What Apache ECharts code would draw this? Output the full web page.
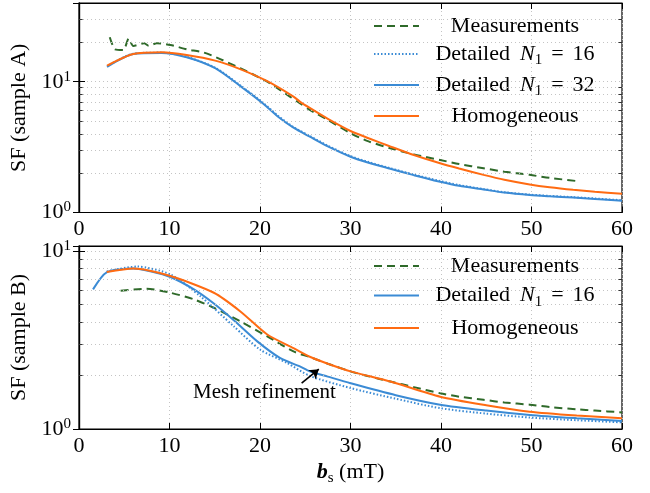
<!DOCTYPE html>
<html><head><meta charset="utf-8">
<script src="https://cdn.jsdelivr.net/npm/echarts@6/dist/echarts.min.js"></script>
<style>html,body{margin:0;padding:0;background:#fff}#c{width:650px;height:493px}</style>
</head><body><div id="c"></div>
<script>
const FONT = '"Liberation Serif","DejaVu Serif",serif';
const GREEN = '#2f6a2a', BLUE = '#3b8bd5', ORANGE = '#ff6b12';

// ---------- x ticks ----------
const xTicks = [0, 10, 20, 30, 40, 50, 60];

// ---------- Sample A ----------
const aMeasX = [3.4, 4.0, 4.9, 5.5, 6.0, 7.2, 7.7, 8.6, 10.1, 11.9, 13.8, 15.6, 17.8, 20.8, 23.3, 24.4, 25.5, 27.5, 30, 32, 34.4, 37, 39.9, 42, 44.7, 47, 49.8, 52, 55];
const aMeasY = [21.9, 17.7, 17.5, 21.5, 18.8, 19.7, 18.8, 19.7, 19.1, 17.7, 16.7, 14.9, 12.7, 10.0, 7.7, 6.85, 6.1, 5.1, 4.04, 3.5, 3.1, 2.78, 2.52, 2.35, 2.18, 2.05, 1.94, 1.84, 1.74];

const aD16X = [3.1, 6.0, 9.1, 11.9, 15.05, 17.8, 20.4, 22, 23.7, 25.5, 27.5, 30, 32, 34.4, 37, 39.9, 42, 44.7, 47, 49.8, 52, 54.6, 57, 60];
const aD16Y = [13.1, 16.4, 16.7, 15.5, 12.8, 9.4, 6.85, 5.48, 4.5, 3.85, 3.24, 2.70, 2.43, 2.18, 1.95, 1.74, 1.62, 1.51, 1.43, 1.37, 1.34, 1.31, 1.28, 1.24];

const aD32X = [3.1, 6.0, 9.1, 11.9, 15.05, 17.8, 20.4, 22, 23.7, 25.5, 27.5, 30, 32, 34.4, 37, 39.9, 42, 44.7, 47, 49.8, 52, 54.6, 57, 60];
const aD32Y = [13.0, 16.3, 16.6, 15.4, 12.7, 9.3, 6.76, 5.4, 4.45, 3.8, 3.2, 2.67, 2.40, 2.16, 1.93, 1.72, 1.60, 1.50, 1.42, 1.36, 1.33, 1.30, 1.27, 1.23];

const aHomX = [3.1, 6.0, 9.2, 11.9, 15.05, 17.8, 20.8, 23.7, 24.4, 25.5, 27.5, 30, 32, 34.4, 37, 39.9, 42, 44.7, 47, 49.8, 52, 54.6, 57, 60];
const aHomY = [13.3, 16.3, 16.8, 16.0, 14.5, 12.5, 10.1, 7.7, 7.05, 6.3, 5.2, 4.2, 3.7, 3.2, 2.75, 2.38, 2.17, 1.94, 1.78, 1.64, 1.56, 1.49, 1.44, 1.39];

// ---------- Sample B ----------
const bMeasX = [4.6, 7.5, 10.1, 12.7, 14.9, 17.8, 20.8, 23.7, 25.5, 27.5, 30, 32, 34.4, 37, 39.9, 42, 44.7, 47, 49.8, 52, 55, 57, 60];
const bMeasY = [6.0, 6.15, 5.84, 5.36, 4.81, 4.04, 3.32, 2.73, 2.54, 2.33, 2.11, 1.98, 1.85, 1.72, 1.59, 1.52, 1.46, 1.41, 1.37, 1.33, 1.29, 1.27, 1.24];

const bD16X = [1.55, 3.06, 6.0, 8.0, 10.1, 12.7, 14.9, 17.1, 19.7, 22.2, 24.4, 25.5, 27.5, 30, 35, 39.9, 45, 49.8, 55, 60];
const bD16Y = [6.1, 7.6, 8.0, 7.7, 7.16, 6.1, 5.08, 4.09, 3.11, 2.51, 2.25, 2.11, 1.97, 1.81, 1.55, 1.37, 1.27, 1.20, 1.15, 1.11];

const bRefX = [3.06, 6.4, 10.1, 13.4, 17.1, 20, 23, 25.5, 30, 35, 39.9, 45, 49.8, 55, 60];
const bRefY = [7.7, 8.2, 7.4, 5.59, 3.78, 2.8, 2.35, 1.99, 1.70, 1.48, 1.31, 1.22, 1.16, 1.12, 1.09];

const bHomX = [3.06, 6.0, 10.1, 14.9, 17.8, 20.8, 23.7, 25.5, 27.5, 30, 34.4, 39.9, 45, 49.8, 55, 60];
const bHomY = [7.64, 8.0, 7.25, 5.84, 4.6, 3.4, 2.85, 2.55, 2.33, 2.11, 1.85, 1.52, 1.36, 1.25, 1.19, 1.15];

// minor log grid values
const aMinor = [2, 3, 4, 5, 6, 7, 8, 9, 20, 30];
const bMinor = [2, 3, 4, 5, 6, 7, 8, 9];

// annotation
const noteText = 'Mesh refinement';
const notePos = [20.5, 1.6];
const arrowFrom = [24.6, 1.81];
const arrowTo = [26.5, 2.17];

const zip = (xs, ys) => xs.map((x, i) => [x, ys[i]]);

// ---------- legend text ----------
const ctx = document.createElement('canvas').getContext('2d');
function tw(txt, size, style) { ctx.font = (style || 'normal') + ' ' + size + 'px ' + FONT; return ctx.measureText(txt).width; }
const LSIZE = 22, SSIZE = 15;
const legendParts = {
  mA: [['t', 'Measurements']],
  d16A: [['t', 'Detailed'], ['i', 'N'], ['s', '1'], ['e', '='], ['t', '16']],
  d32A: [['t', 'Detailed'], ['i', 'N'], ['s', '1'], ['e', '='], ['t', '32']],
  hA: [['t', 'Homogeneous']],
  mB: [['t', 'Measurements']],
  d16B: [['t', 'Detailed'], ['i', 'N'], ['s', '1'], ['e', '='], ['t', '16']],
  hB: [['t', 'Homogeneous']]
};
const EPAD = 9, IPAD = 10;
function partWidth(p) {
  if (p[0] === 't') return tw(p[1], LSIZE);
  if (p[0] === 'i') return tw(p[1], LSIZE, 'italic') + IPAD;
  if (p[0] === 's') return tw(p[1], SSIZE);
  if (p[0] === 'e') return tw(p[1], LSIZE) + 2 * EPAD;
  return 0;
}
const legendRich = {
  t: { fontSize: LSIZE, fontFamily: FONT, color: '#000', lineHeight: 24 },
  i: { fontSize: LSIZE, fontFamily: FONT, fontStyle: 'italic', color: '#000', lineHeight: 24, padding: [0, 0, 0, IPAD] },
  s: { fontSize: SSIZE, fontFamily: FONT, color: '#000', verticalAlign: 'bottom', lineHeight: 24, padding: [0, 0, -2, 0] },
  e: { fontSize: LSIZE, fontFamily: FONT, color: '#000', padding: [0, EPAD, 0, EPAD], lineHeight: 24 }
};
const LEG_CENTER = 514 - 423; // centre of text column relative to text start
const legendStr = {};
Object.keys(legendParts).forEach((k, idx) => {
  const parts = legendParts[k];
  const w = parts.reduce((a, p) => a + partWidth(p), 0);
  const pad = Math.max(0, LEG_CENTER - w / 2);
  legendRich['p' + idx] = { width: pad, fontSize: LSIZE, lineHeight: 24 };
  legendStr[k] = '{p' + idx + '| }' + parts.map(p => '{' + p[0] + '|' + p[1] + '}').join('');
});

// ---------- axes ----------
const logLabel = v => {
  const e = Math.log10(v);
  if (Math.abs(e - Math.round(e)) < 1e-6) return '{b|10}{s|' + Math.round(e) + '}';
  return '';
};
const yRich = {
  b: { fontSize: 22, fontFamily: FONT, color: '#000' },
  s: { fontSize: 15, fontFamily: FONT, color: '#000', verticalAlign: 'top', padding: [0, 0, 10, 0] }
};
function xAxisCfg(grid, pos, labels, name) {
  return {
    type: 'value', gridIndex: grid, position: pos, min: 0, max: 60, interval: 10,
    axisLine: { show: true, onZero: false, lineStyle: { color: '#000', width: 1.2 } },
    axisTick: { show: true, inside: true, length: 6, lineStyle: { color: '#000', width: 1 } },
    axisLabel: { show: labels, fontSize: 22, fontFamily: FONT, color: '#000', margin: 6 },
    splitLine: { show: pos === 'bottom', lineStyle: { color: '#c4c4c4', type: [1, 3], width: 1 } },
    name: name || '', nameLocation: 'middle', nameGap: 32,
    nameTextStyle: {
      rich: {
        b: { fontSize: 22, fontFamily: FONT, fontWeight: 'bold', fontStyle: 'italic', color: '#000' },
        s: { fontSize: 15, fontFamily: FONT, color: '#000', verticalAlign: 'bottom', padding: [0, 0, -3, 0] },
        t: { fontSize: 22, fontFamily: FONT, color: '#000' }
      }
    }
  };
}
function yAxisCfg(grid, pos, max, labels, name) {
  return {
    type: 'log', logBase: 10, gridIndex: grid, position: pos, min: 1, max: max,
    axisLine: { show: true, lineStyle: { color: '#000', width: 1.2 } },
    axisTick: { show: true, inside: true, length: 6, lineStyle: { color: '#000', width: 1 } },
    axisLabel: { show: labels, formatter: logLabel, rich: yRich, margin: 8, showMaxLabel: false },
    splitLine: { show: pos === 'left', lineStyle: { color: '#c4c4c4', type: [1, 3], width: 1 } },
    name: name || '', nameLocation: 'middle', nameGap: 43, nameRotate: 90,
    nameTextStyle: { fontSize: 22, fontFamily: FONT, color: '#000' }
  };
}

function gridHelper(name, xi, yi, minor) {
  const lines = minor.map(v => ({ yAxis: v }));
  const ticks = [];
  minor.forEach(v => {
    ticks.push([{ coord: [0, v] }, { coord: [0.4, v] }]);
    ticks.push([{ coord: [59.6, v] }, { coord: [60, v] }]);
  });
  return [{
    name: name + 'grid', type: 'line', xAxisIndex: xi, yAxisIndex: yi, data: [], z: 1, silent: true,
    markLine: { silent: true, symbol: 'none', animation: false, label: { show: false },
      lineStyle: { color: '#c4c4c4', type: [1, 3], width: 1 }, data: lines }
  }, {
    name: name + 'ticks', type: 'line', xAxisIndex: xi, yAxisIndex: yi, data: [], z: 1, silent: true,
    markLine: { silent: true, symbol: 'none', animation: false, label: { show: false },
      lineStyle: { color: '#333', type: 'solid', width: 1 }, data: ticks }
  }];
}

function lineSeries(name, xs, ys, xi, yi, color, type, z) {
  return {
    name: name, type: 'line', xAxisIndex: xi, yAxisIndex: yi, data: zip(xs, ys),
    symbol: 'none', showSymbol: false, smooth: 0.25, z: z || 3, animation: false,
    lineStyle: { color: color, width: 2, type: type || 'solid' },
    itemStyle: { color: color }
  };
}

const series = [].concat(
  gridHelper('A', 0, 0, aMinor),
  gridHelper('B', 2, 2, bMinor),
  [
    lineSeries('mA', aMeasX, aMeasY, 0, 0, GREEN, [8, 5], 3),
    lineSeries('d16A', aD16X, aD16Y, 0, 0, BLUE, [1.5, 2], 4),
    lineSeries('d32A', aD32X, aD32Y, 0, 0, BLUE, 'solid', 4),
    lineSeries('hA', aHomX, aHomY, 0, 0, ORANGE, 'solid', 5),
    lineSeries('mB', bMeasX, bMeasY, 2, 2, GREEN, [8, 5], 3),
    Object.assign(lineSeries('refB', bRefX, bRefY, 2, 2, BLUE, [1.5, 2], 4), {
      markPoint: {
        symbol: 'rect', symbolSize: 1, itemStyle: { color: 'rgba(0,0,0,0)' }, animation: false,
        label: { show: true, position: 'inside', formatter: noteText, fontSize: 21, fontFamily: FONT, color: '#000' },
        data: [{ coord: notePos }]
      },
      markLine: {
        silent: true, symbol: ['none', 'arrow'], symbolSize: 9, animation: false, label: { show: false },
        lineStyle: { color: '#000', width: 1.6, type: 'solid', curveness: -0.35 },
        data: [[{ coord: arrowFrom }, { coord: arrowTo }]]
      }
    }),
    lineSeries('d16B', bD16X, bD16Y, 2, 2, BLUE, 'solid', 4),
    lineSeries('hB', bHomX, bHomY, 2, 2, ORANGE, 'solid', 5)
  ]
);

function legendCfg(names, top, gap) {
  return {
    data: names, orient: 'vertical', left: 373, top: top, padding: 0,
    itemWidth: 45, itemHeight: 14, itemGap: gap, selectedMode: false,
    itemStyle: { opacity: 0 },
    formatter: n => legendStr[n],
    textStyle: { rich: legendRich, fontSize: LSIZE, fontFamily: FONT }
  };
}

const chart = echarts.init(document.getElementById('c'), null, { renderer: 'canvas' });
chart.setOption({
  backgroundColor: '#fff',
  animation: false,
  grid: [
    { left: 79, right: 28, top: 3, height: 209.5, show: true, borderColor: '#000', borderWidth: 1.2, backgroundColor: 'transparent' },
    { left: 79, right: 28, top: 246, height: 183, show: true, borderColor: '#000', borderWidth: 1.2, backgroundColor: 'transparent' }
  ],
  xAxis: [
    xAxisCfg(0, 'bottom', true),
    xAxisCfg(0, 'top', false),
    xAxisCfg(1, 'bottom', true, '{b|b}{s|s}{t| (mT)}'),
    xAxisCfg(1, 'top', false)
  ],
  yAxis: [
    yAxisCfg(0, 'left', 40, true, 'SF (sample A)'),
    yAxisCfg(0, 'right', 40, false),
    yAxisCfg(1, 'left', 10.7, true, 'SF (sample B)'),
    yAxisCfg(1, 'right', 10.7, false)
  ],
  legend: [
    legendCfg(['mA', 'd16A', 'd32A', 'hA'], 15, 6),
    legendCfg(['mB', 'd16B', 'hB'], 255, 7.5)
  ],
  series: series
});
</script>
</body></html>
